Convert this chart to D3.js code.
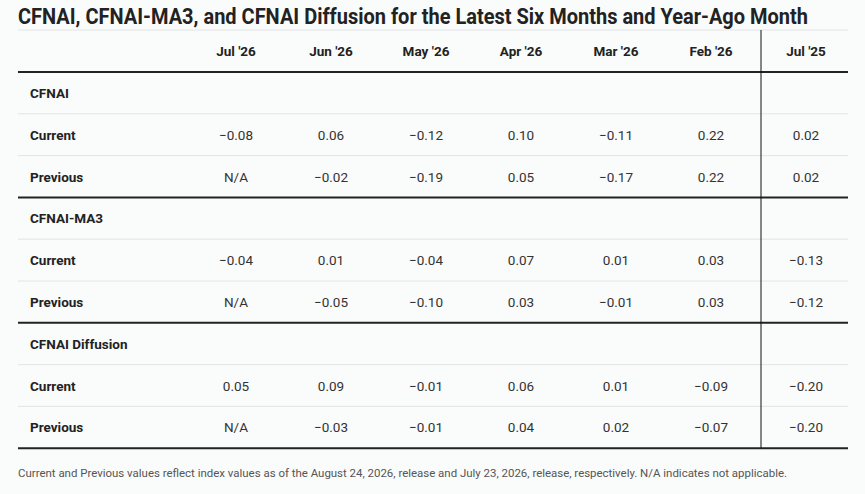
<!DOCTYPE html>
<html><head><meta charset="utf-8">
<script src="https://cdn.jsdelivr.net/npm/d3@7"></script>
<style>body{margin:0;background:#fafbfb;}text{font-family:Roboto,sans-serif;}</style>
</head><body>
<script>
const columns = ["Jul '26", "Jun '26", "May '26", "Apr '26", "Mar '26", "Feb '26", "Jul '25"];
const groups = ["CFNAI", "CFNAI-MA3", "CFNAI Diffusion"];
const rowLabels = ["Current", "Previous"];
const cfnaiCurrent = ["−0.08", "0.06", "−0.12", "0.10", "−0.11", "0.22", "0.02"];
const cfnaiPrevious = ["N/A", "−0.02", "−0.19", "0.05", "−0.17", "0.22", "0.02"];
const ma3Current = ["−0.04", "0.01", "−0.04", "0.07", "0.01", "0.03", "−0.13"];
const ma3Previous = ["N/A", "−0.05", "−0.10", "0.03", "−0.01", "0.03", "−0.12"];
const diffCurrent = ["0.05", "0.09", "−0.01", "0.06", "0.01", "−0.09", "−0.20"];
const diffPrevious = ["N/A", "−0.03", "−0.01", "0.04", "0.02", "−0.07", "−0.20"];
const groupValues = [[cfnaiCurrent, cfnaiPrevious], [ma3Current, ma3Previous], [diffCurrent, diffPrevious]];

const W = 865, H = 494, left = 18, right = 848;
const svg = d3.select("body").append("svg").attr("width", W).attr("height", H);

svg.append("text").attr("x", left).attr("y", 24).attr("font-size", 22).attr("font-weight", "bold")
  .attr("fill", "#222").attr("textLength", 790).attr("lengthAdjust", "spacingAndGlyphs")
  .text("CFNAI, CFNAI-MA3, and CFNAI Diffusion for the Latest Six Months and Year-Ago Month");

const x = d3.scalePoint().domain(columns).range([236, 806]);
const headerTop = 30, headerBottom = 72, rowH = 41.8;

svg.append("line").attr("x1", left).attr("x2", right).attr("y1", headerTop).attr("y2", headerTop)
  .attr("stroke", "#e2e4e6").attr("stroke-width", 1);

svg.selectAll("text.col").data(columns).join("text").attr("class", "col")
  .attr("x", d => x(d)).attr("y", 56).attr("text-anchor", "middle")
  .attr("font-size", 13.5).attr("font-weight", "bold").attr("fill", "#222").text(d => d);

svg.append("line").attr("x1", left).attr("x2", right).attr("y1", headerBottom).attr("y2", headerBottom)
  .attr("stroke", "#222").attr("stroke-width", 2);

groups.forEach((g, gi) => {
  const top = headerBottom + gi * rowH * 3;
  svg.append("text").attr("x", 30).attr("y", top + rowH / 2 + 5).attr("font-size", 13.5)
    .attr("font-weight", "bold").attr("fill", "#222").text(g);
  rowLabels.forEach((r, ri) => {
    const y0 = top + rowH * (ri + 1);
    svg.append("line").attr("x1", left).attr("x2", right).attr("y1", y0).attr("y2", y0)
      .attr("stroke", "#e2e4e6").attr("stroke-width", 1);
    const cy = y0 + rowH / 2 + 5;
    svg.append("text").attr("x", 30).attr("y", cy).attr("font-size", 13.5)
      .attr("font-weight", "bold").attr("fill", "#222").text(r);
    svg.selectAll(null).data(groupValues[gi][ri]).join("text")
      .attr("x", (d, i) => x(columns[i])).attr("y", cy).attr("text-anchor", "middle")
      .attr("font-size", 13.5).attr("fill", "#333").text(d => d);
  });
  const bottom = top + rowH * 3;
  svg.append("line").attr("x1", left).attr("x2", right).attr("y1", bottom).attr("y2", bottom)
    .attr("stroke", "#222").attr("stroke-width", 2);
});

svg.append("line").attr("x1", 761).attr("x2", 761).attr("y1", headerTop)
  .attr("y2", headerBottom + rowH * 9).attr("stroke", "#111").attr("stroke-width", 1);

svg.append("text").attr("x", left).attr("y", 477).attr("font-size", 11.5).attr("fill", "#555")
  .attr("textLength", 769).attr("lengthAdjust", "spacingAndGlyphs")
  .text("Current and Previous values reflect index values as of the August 24, 2026, release and July 23, 2026, release, respectively. N/A indicates not applicable.");
</script>
</body></html>
